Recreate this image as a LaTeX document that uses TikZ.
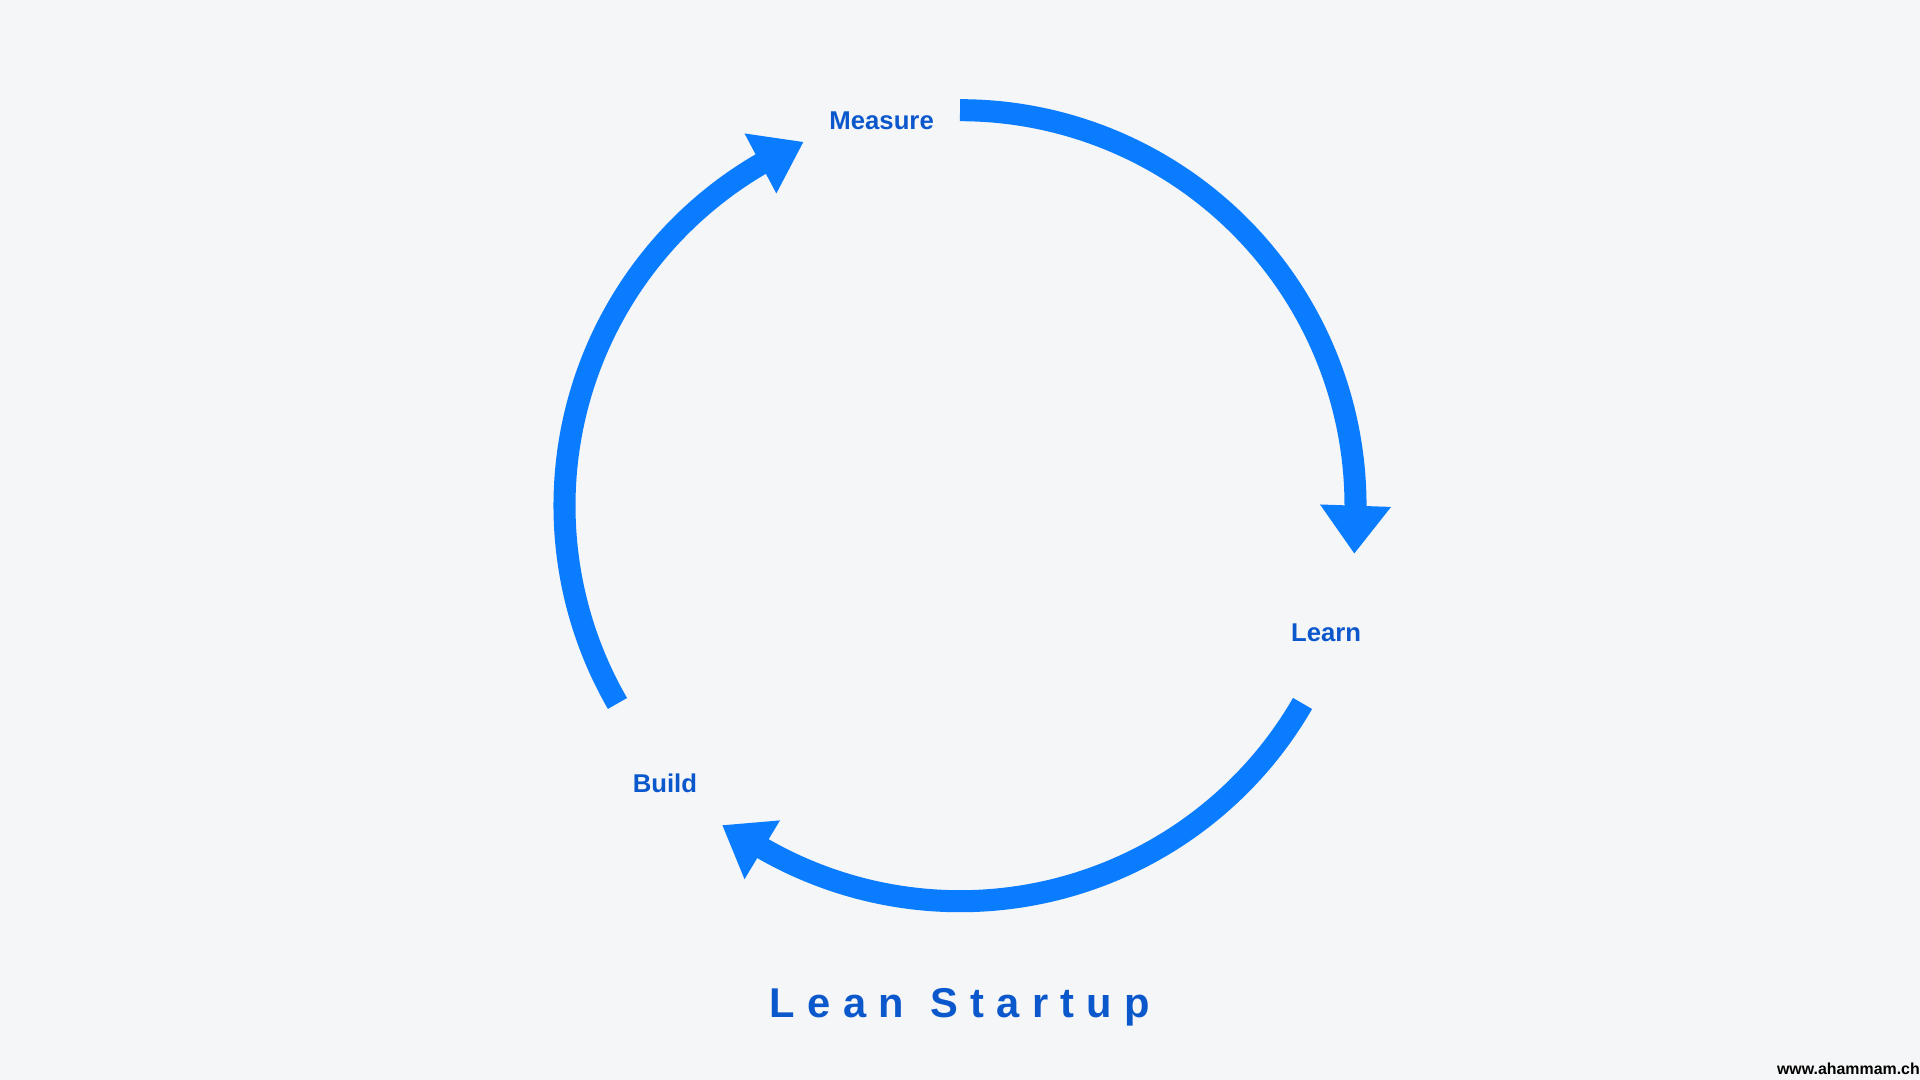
\documentclass[tikz,border=0pt]{standalone}
\usepackage{fontspec}
\setmainfont{Liberation Sans}
\definecolor{arc}{HTML}{0A7CFF}
\definecolor{lbl}{HTML}{0B57CC}
\begin{document}
\begin{tikzpicture}[x=1pt,y=1pt,
  cyc/.style={draw=arc,line width=18pt},
  head/.style={fill=arc},
  lab/.style={text=lbl,font=\bfseries\fontsize{21}{24}\selectfont}]
\useasboundingbox[fill={rgb,255:red,245;green,246;blue,247}] (0,0) rectangle (1568,882);
\coordinate (c) at (784,469);
% arcs
\draw[cyc] ([shift={(90:323)}]c) arc[start angle=90,end angle=-1,radius=323];
\draw[cyc] ([shift={(-30:323)}]c) arc[start angle=-30,end angle=-121,radius=323];
\draw[cyc] ([shift={(210:323)}]c) arc[start angle=210,end angle=119,radius=323];
% heads (screen y flipped: y' = 882 - y)
\fill[head] (1078,470) -- (1136,468) -- (1106,430) -- cycle;
\fill[head] (590,208) -- (637,212) -- (608,164) -- cycle;
\fill[head] (608,773) -- (656,766) -- (634,724) -- cycle;
% labels
\node[lab] (measure) at (720,783) {Measure};
\node[lab] (learn) at (1083,365) {Learn};
\node[lab] (build) at (543,242) {Build};
\node[text=lbl,font=\bfseries\fontsize{34}{40}\selectfont] (title) at (784,59)
 {L\hspace{10pt}e\hspace{10pt}a\hspace{10pt}n\hspace{22pt}S\hspace{10pt}t\hspace{10pt}a\hspace{10pt}r\hspace{10pt}t\hspace{10pt}u\hspace{10pt}p};
\node[font=\bfseries\fontsize{13}{15}\selectfont,anchor=east,inner sep=0pt] (web) at (1568,9) {www.ahammam.ch};
\end{tikzpicture}
\end{document}
